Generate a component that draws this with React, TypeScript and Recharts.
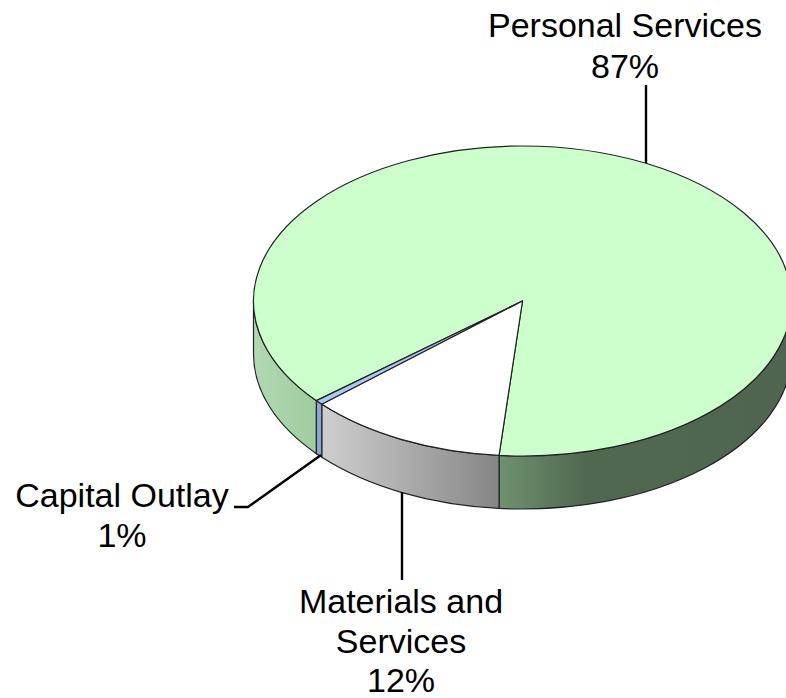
import { Pie, PieChart } from 'recharts'

const categories = ['Personal Services', 'Capital Outlay', 'Materials and Services']
const values = [87.5, 0.5, 12]
const percentLabels = ['87%', '1%', '12%']
const topColors = ['#CCFFCC', '#A6CAF0', '#FFFFFF']

const chartData = categories.map((name, i) => ({ name, value: values[i], fill: topColors[i], index: i }))

// wall gradients, one list per slice, one entry per visible wall piece
const wallGradients: [number, number, [number, string][]][][] = [
  [
    [500, 786, [[0, '#6F916F'], [0.3, '#506850'], [1, '#4F654F']]],
    [253, 317, [[0, '#B2D9B2'], [1, '#9FCC9F']]],
  ],
  [[316, 322, [[0, '#8AA9D2'], [1, '#8AA9D2']]]],
  [[321, 500, [[0, '#CFCFCF'], [1, '#858585']]]],
]

const CX = 522.5
const CY = 301
const RX = 269
const RY = 155
const DEPTH = 53
const FONT = '"Liberation Sans", Arial, sans-serif'

const pt = (deg: number, dy = 0) => {
  const a = (deg * Math.PI) / 180
  return `${CX + RX * Math.cos(a)} ${CY - RY * Math.sin(a) + dy}`
}

function Slice3D(props: any) {
  const { startAngle, endAngle, fill, payload } = props
  const idx = payload?.index ?? props.index
  const large = endAngle - startAngle > 180 ? 1 : 0
  const top = `M${CX} ${CY} L${pt(startAngle)} A${RX} ${RY} 0 ${large} 0 ${pt(endAngle)} Z`

  // only the front half of the rim shows a wall
  const walls: [number, number][] = []
  for (const [lo, hi] of [[180, 360], [540, 720]]) {
    const a = Math.max(startAngle, lo)
    const b = Math.min(endAngle, hi)
    if (b > a) walls.push([a, b])
  }

  return (
    <g>
      {walls.map(([a, b], i) => {
        const [x1, x2, stops] = wallGradients[idx][i]
        const id = `wall-${idx}-${i}`
        return (
          <g key={id}>
            <defs>
              <linearGradient id={id} gradientUnits="userSpaceOnUse" x1={x1} x2={x2} y1={0} y2={0}>
                {stops.map(([o, c]) => (
                  <stop key={o} offset={o} stopColor={c} />
                ))}
              </linearGradient>
            </defs>
            <path
              d={`M${pt(a)} A${RX} ${RY} 0 0 0 ${pt(b)} L${pt(b, DEPTH)} A${RX} ${RY} 0 0 1 ${pt(a, DEPTH)} Z`}
              fill={`url(#${id})`}
              stroke="#222"
              strokeWidth={1.2}
            />
          </g>
        )
      })}
      <path d={top} fill={fill} stroke="#222" strokeWidth={1.2} strokeLinejoin="round" />
    </g>
  )
}

const labelLines = ['646,85 646,163', '234,507 248,507 321,455', '402,492 402,580']
const labelX = [625, 122, 401]
const labelY = [37, 507, 613]
const labelRows = [['Personal Services'], ['Capital Outlay'], ['Materials and', 'Services']]

function SliceLabel(props: any) {
  const i = props.index
  const rows = [...labelRows[i], percentLabels[i]]
  return (
    <g>
      <polyline points={labelLines[i]} fill="none" stroke="#000" strokeWidth={2.4} />
      <text x={labelX[i]} y={labelY[i]} textAnchor="middle" fontFamily={FONT} fontSize={34} fill="#000">
        {rows.map((r, j) => (
          <tspan key={r} x={labelX[i]} dy={j === 0 ? 0 : j === 1 && i === 0 ? 41 : 39.5}>
            {r}
          </tspan>
        ))}
      </text>
    </g>
  )
}

export default function App() {
  return (
    <div style={{ position: 'absolute', left: 0, top: 0, width: 786, height: 698, overflow: 'hidden' }}>
      <PieChart width={786} height={698} margin={{ top: 0, right: 0, bottom: 0, left: 0 }}>
        <Pie
          data={chartData}
          dataKey="value"
          nameKey="name"
          cx={CX}
          cy={CY}
          innerRadius={0}
          outerRadius={RX}
          startAngle={265}
          endAngle={625}
          shape={Slice3D}
          label={SliceLabel}
          labelLine={false}
          isAnimationActive={false}
        />
      </PieChart>
    </div>
  )
}
